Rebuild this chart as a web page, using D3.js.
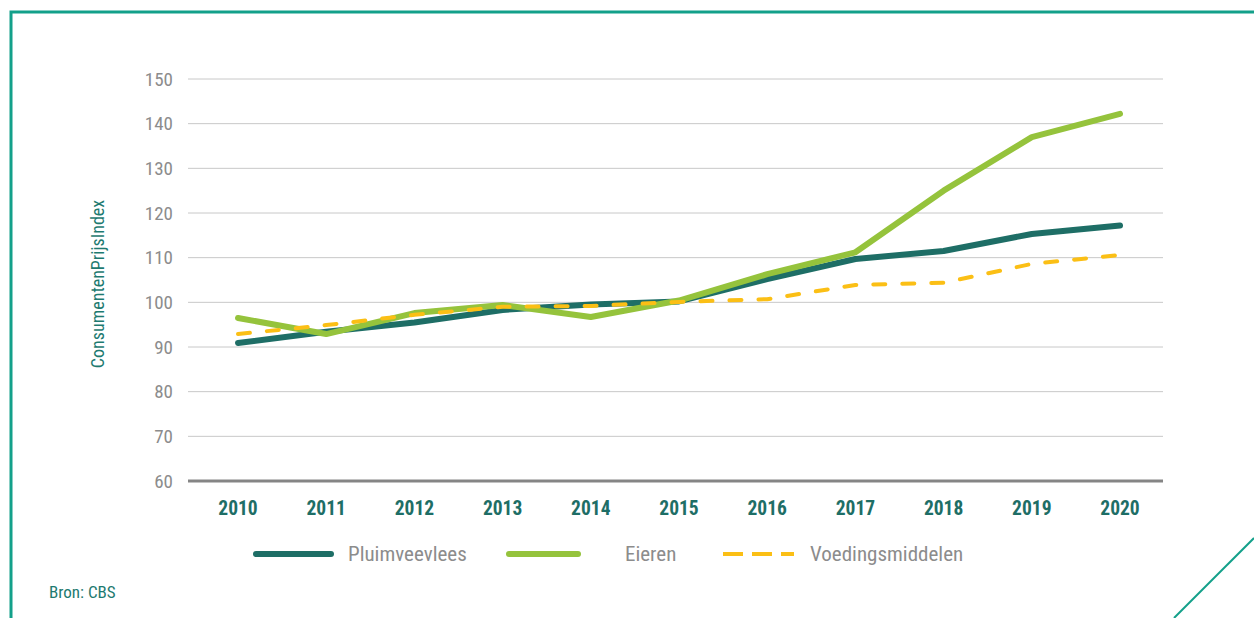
<!DOCTYPE html>
<meta charset="utf-8">
<script src="https://d3js.org/d3.v7.min.js"></script>
<style>
  body { margin: 0; background: #fff; }
  text { font-family: "Liberation Sans Narrow", "Roboto", sans-serif; font-stretch: condensed; }
</style>
<div id="chart"></div>
<script>
// data
const years = ["2010","2011","2012","2013","2014","2015","2016","2017","2018","2019","2020"];
const pluimveevlees = [90.9, 93.4, 95.5, 98.3, 99.5, 100.2, 105.2, 109.7, 111.5, 115.3, 117.2];
const eieren = [96.5, 92.9, 97.6, 99.4, 96.7, 100.4, 106.3, 111.2, 125.0, 137.0, 142.2];
const voedingsmiddelen = [92.9, 94.9, 97.2, 99.0, 99.2, 100.1, 100.7, 103.9, 104.4, 108.6, 110.6];
const yTicks = [60, 70, 80, 90, 100, 110, 120, 130, 140, 150];

const series = [
  {name: "Pluimveevlees", values: pluimveevlees, color: "#1e6e66", dash: null, width: 6},
  {name: "Eieren", values: eieren, color: "#95c33c", dash: null, width: 6},
  {name: "Voedingsmiddelen", values: voedingsmiddelen, color: "#fbbf15", dash: "12,17", width: 4}
];

const W = 1254, H = 618;
const svg = d3.select("#chart").append("svg")
  .attr("width", W).attr("height", H);

// frame with cut corner
svg.append("path")
  .attr("d", "M11,618 L11,12 L1254,12")
  .attr("fill", "none").attr("stroke", "#13a08a").attr("stroke-width", 3);
svg.append("line")
  .attr("x1", 1254).attr("y1", 538).attr("x2", 1174).attr("y2", 618)
  .attr("stroke", "#13a08a").attr("stroke-width", 2);

const x = d3.scalePoint().domain(years).range([238, 1120]);
const y = d3.scaleLinear().domain([60, 150]).range([481, 79]);

// grid
svg.append("g").selectAll("line").data(yTicks.filter(d => d > 60)).join("line")
  .attr("x1", 188).attr("x2", 1163)
  .attr("y1", d => y(d)).attr("y2", d => y(d))
  .attr("stroke", "#c8c8c8").attr("stroke-width", 1);

// y tick labels
svg.append("g").selectAll("text").data(yTicks).join("text")
  .attr("x", 173).attr("y", d => y(d))
  .attr("dy", "0.35em").attr("text-anchor", "end")
  .attr("fill", "#8c8c8c").attr("font-size", 19)
  .text(d => d);

// baseline
svg.append("line")
  .attr("x1", 188).attr("x2", 1163).attr("y1", y(60)).attr("y2", y(60))
  .attr("stroke", "#858585").attr("stroke-width", 3);

// x labels
svg.append("g").selectAll("text").data(years).join("text")
  .attr("x", d => x(d)).attr("y", 515)
  .attr("text-anchor", "middle")
  .attr("fill", "#1e6e66").attr("font-size", 19.5).attr("font-weight", "bold")
  .text(d => d);

// y axis title
svg.append("text")
  .attr("transform", "translate(104,284) rotate(-90)")
  .attr("text-anchor", "middle")
  .attr("fill", "#1e7a70").attr("font-size", 18)
  .text("ConsumentenPrijsIndex");

const line = d3.line().x((d, i) => x(years[i])).y(d => y(d));

series.forEach(s => {
  svg.append("path")
    .datum(s.values)
    .attr("d", line)
    .attr("fill", "none")
    .attr("stroke", s.color)
    .attr("stroke-width", s.width)
    .attr("stroke-linecap", "round")
    .attr("stroke-linejoin", "round")
    .attr("stroke-dasharray", s.dash);
});

// legend
const legendPos = [
  {x1: 256, x2: 331, tx: 348},
  {x1: 509, x2: 578, tx: 625},
  {x1: 723, x2: 794, tx: 810}
];
series.forEach((s, i) => {
  const p = legendPos[i];
  svg.append("line")
    .attr("x1", p.x1).attr("x2", p.x2).attr("y1", 554).attr("y2", 554)
    .attr("stroke", s.color).attr("stroke-width", s.width)
    .attr("stroke-linecap", s.dash ? "butt" : "round")
    .attr("stroke-dasharray", s.dash ? "20,9" : null);
  svg.append("text")
    .attr("x", p.tx).attr("y", 554).attr("dy", "0.35em")
    .attr("fill", "#8c8c8c").attr("font-size", 21)
    .text(s.name);
});

svg.append("text")
  .attr("x", 49).attr("y", 598)
  .attr("fill", "#1e7a70").attr("font-size", 17)
  .text("Bron: CBS");
</script>
